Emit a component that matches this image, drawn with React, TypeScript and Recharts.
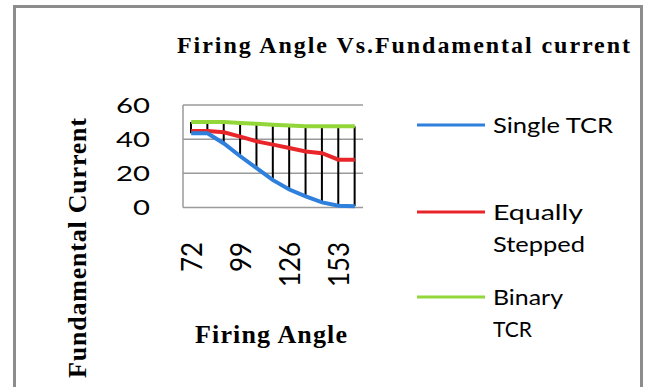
import React from "react";
import { ComposedChart, Line, Bar, XAxis, YAxis, CartesianGrid } from "recharts";

// Firing angle (degrees) on the category axis
const firingAngles = [72, 81, 90, 99, 108, 117, 126, 135, 144, 153, 162];
// Fundamental current for each compensator arrangement
const singleTcr = [43.5, 43.5, 37.5, 30, 23, 16, 10.5, 6.5, 3, 1, 0.8];
const equallyStepped = [44.8, 44.8, 44, 41.5, 38.7, 36.8, 34.8, 32.8, 31.8, 28, 28];
const binaryTcr = [50, 50, 50, 49.5, 49, 48.5, 48, 47.5, 47.5, 47.5, 47.5];
const yTicks = [0, 20, 40, 60];

const series = [
  { key: "single", lines: ["Single TCR"], color: "#2f7fdc", lengths: [120] },
  { key: "equal", lines: ["Equally", "Stepped"], color: "#e8262a", lengths: [90, 92] },
  { key: "binary", lines: ["Binary", "TCR"], color: "#92d63a", lengths: [70, 39] },
];

const data = firingAngles.map((angle, i) => ({
  angle,
  single: singleTcr[i],
  equal: equallyStepped[i],
  binary: binaryTcr[i],
}));

const SANS = "Lato, 'Open Sans', sans-serif";
const SERIF = "'Liberation Serif', 'Times New Roman', serif";

// Rotated category labels, top-aligned below the plot
const XTick = (props: any) => {
  const { x, payload } = props;
  const label = String(payload.value);
  const ty = 242;
  return (
    <text
      x={x}
      y={ty}
      dy="0.36em"
      transform={`rotate(-90, ${x}, ${ty})`}
      textAnchor="end"
      fontFamily={SANS}
      fontSize={29}
      fill="#000"
      textLength={label.length * 15}
      lengthAdjust="spacingAndGlyphs"
    >
      {label}
    </text>
  );
};

const YTick = (props: any) => {
  const { y, payload } = props;
  const label = String(payload.value);
  return (
    <text
      x={150}
      y={y}
      dy="0.36em"
      textAnchor="end"
      fontFamily={SANS}
      fontSize={21}
      fill="#000"
      textLength={label.length * 17}
      lengthAdjust="spacingAndGlyphs"
    >
      {label}
    </text>
  );
};

const legendRows = [125, 212, 297];

export default function App() {
  return (
    <div
      style={{
        position: "absolute",
        left: 0,
        top: 0,
        width: 648,
        height: 387,
        background: "#fff",
        overflow: "hidden",
      }}
    >
      <ComposedChart
        width={648}
        height={387}
        data={data}
        margin={{ top: 105, right: 285, bottom: 119.5, left: 123 }}
      >
        <CartesianGrid horizontal vertical={false} stroke="#9a9a9a" strokeWidth={1.5} />
        <XAxis
          dataKey="angle"
          height={60}
          axisLine={false}
          tickLine={false}
          tickSize={0}
          interval={2}
          tick={<XTick />}
        />
        <YAxis
          width={60}
          domain={[0, 60]}
          ticks={yTicks}
          axisLine={{ stroke: "#9a9a9a", strokeWidth: 1.5 }}
          tickLine={false}
          tickSize={0}
          tick={<YTick />}
        />
        <Line dataKey="binary" stroke="#92d63a" strokeWidth={4} dot={false} isAnimationActive={false} />
        <Line dataKey="equal" stroke="#e8262a" strokeWidth={4} dot={false} isAnimationActive={false} />
        <Line dataKey="single" stroke="#2f7fdc" strokeWidth={4} dot={false} isAnimationActive={false} />
        <Bar
          dataKey={(d: any) => [d.single, d.binary]}
          barSize={2}
          fill="#000"
          isAnimationActive={false}
        />
      </ComposedChart>

      <svg
        width={648}
        height={387}
        style={{ position: "absolute", left: 0, top: 0, pointerEvents: "none" }}
      >
        {/* chart area frame */}
        <rect x={14.5} y={6.5} width={627} height={400} fill="none" stroke="#8c8c8c" strokeWidth={3} />

        <text
          x={177}
          y={53}
          fontFamily={SERIF}
          fontWeight="bold"
          fontSize={24}
          fill="#000"
          textLength={453}
          lengthAdjust="spacing"
        >
          Firing Angle Vs.Fundamental current
        </text>

        <text
          x={195}
          y={343}
          fontFamily={SERIF}
          fontWeight="bold"
          fontSize={26}
          fill="#000"
          textLength={152}
          lengthAdjust="spacing"
        >
          Firing Angle
        </text>

        <text
          x={86}
          y={248}
          transform="rotate(-90, 86, 248)"
          textAnchor="middle"
          fontFamily={SERIF}
          fontWeight="bold"
          fontSize={26}
          fill="#000"
          textLength={260}
          lengthAdjust="spacing"
        >
          Fundamental Current
        </text>

        {series.map((s, i) => (
          <g key={s.key}>
            <line x1={417} x2={485} y1={legendRows[i]} y2={legendRows[i]} stroke={s.color} strokeWidth={3} />
            {s.lines.map((t, j) => (
              <text
                key={t}
                x={493}
                y={legendRows[i] + 8 + j * 32}
                fontFamily={SANS}
                fontSize={22}
                fill="#000"
                textLength={s.lengths[j]}
                lengthAdjust="spacingAndGlyphs"
              >
                {t}
              </text>
            ))}
          </g>
        ))}
      </svg>
    </div>
  );
}
